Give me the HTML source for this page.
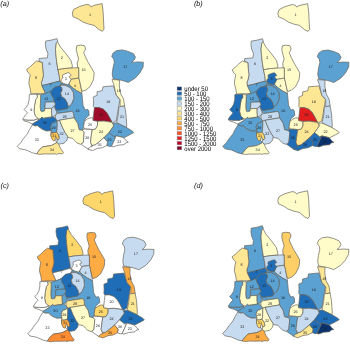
<!DOCTYPE html>
<html><head><meta charset="utf-8"><title>maps</title>
<style>html,body{margin:0;padding:0;background:#fff;}svg{display:block}text{font-family:"Liberation Sans",sans-serif;text-rendering:geometricPrecision}</style></head><body>
<svg width="350" height="344" viewBox="0 0 350 344">
<rect width="350" height="344" fill="#fff"/>
<g transform="translate(0,0)" stroke="#63615a" stroke-width="0.68" stroke-linejoin="round">
<polygon points="23.0,119.6 28.1,120.1 33.9,120.1 38.0,118.7 38.8,120.2 34.8,122.6 32.4,124.0 28.6,122.2 24.0,120.8" fill="#ffffff"/>
<polygon points="72.3,13.1 73.7,9.4 79.5,6.5 86.8,4.4 89.7,5.1 91.2,7.0 93.3,5.5 102.1,3.6 103.1,11.6 104.0,29.1 102.5,31.3 99.2,29.8 94.1,25.4 88.3,24.0 82.4,21.8 78.1,18.9 73.0,16.7" fill="#fde694"/>
<polygon points="45.7,41.0 51.8,40.0 56.9,38.6 57.8,41.2 56.3,43.1 55.5,48.9 55.9,54.7 56.7,62.0 58.0,70.0 59.4,76.5 59.8,81.0 49.9,83.7 41.9,85.6 41.3,82.7 42.6,79.0 43.4,74.7 42.7,68.9 42.3,62.6 39.0,61.4 39.1,58.5 47.4,57.8 47.9,53.3 46.0,48.9 45.4,44.5" fill="#c6dbef"/>
<polygon points="36.8,60.9 42.3,62.6 42.7,68.9 43.4,74.7 42.6,79.0 41.3,82.7 41.9,85.6 44.0,90.0 45.5,93.3 41.2,93.6 35.3,93.6 31.0,94.0 30.3,89.2 28.8,83.4 29.5,78.3 30.3,74.7 28.0,72.5 26.6,69.6 29.5,67.4 33.2,63.8" fill="#fde694"/>
<polygon points="57.4,41.6 60.5,47.1 66.0,53.8 70.8,60.2 72.4,65.8 72.0,68.0 64.9,68.5 58.0,69.6 58.0,70.0 56.7,62.0 55.9,54.7 55.5,48.9 56.3,43.1" fill="#fffcc9"/>
<polygon points="58.0,69.6 64.9,68.5 72.0,68.0 78.8,67.6 78.9,78.0 71.1,79.3 69.1,83.4 61.8,83.6 59.8,81.0 59.4,76.5" fill="#fde694"/>
<polygon points="71.1,79.3 78.9,78.0 79.9,82.0 81.3,89.0 81.9,93.6 76.6,90.7 72.6,87.8 69.1,84.9 69.1,83.4" fill="#fde694"/>
<polygon points="76.7,45.8 80.3,45.1 84.3,45.6 85.4,47.8 85.2,50.0 83.7,52.6 85.5,57.0 88.1,62.3 90.5,66.2 94.2,72.7 93.7,78.5 92.9,80.8 90.0,86.6 85.9,90.1 82.4,91.3 81.3,89.0 79.9,82.0 78.9,78.0 78.8,67.6 77.7,67.6 77.2,63.3 78.6,58.9 77.4,54.5 76.3,50.2" fill="#fffcc9"/>
<polygon points="41.9,85.6 49.9,83.7 59.6,81.0 61.5,83.6 60.0,86.0 54.7,87.2 50.4,91.5 45.5,93.5 44.0,90.0" fill="#5ba1d2"/>
<polygon points="61.5,83.6 63.5,83.5 67.7,84.7 69.1,83.6 69.1,84.9 72.6,87.8 76.6,90.7 81.9,93.6 82.4,98.3 83.0,105.2 85.3,109.9 87.7,109.3 88.8,111.0 89.2,115.3 85.6,118.3 84.4,121.3 83.6,126.5 82.5,130.3 79.1,129.8 77.6,123.3 74.0,117.8 73.5,113.5 72.3,111.3 58.3,113.4 56.6,111.7 55.4,109.4 58.1,110.2 64.7,109.1 67.4,108.5 68.4,106.8 71.5,104.1 73.8,98.3 73.3,92.4 70.3,87.8 65.1,85.3 61.5,85.2 60.0,86.0" fill="#5ba1d2"/>
<polygon points="50.4,91.5 54.7,87.2 60.0,86.0 61.6,87.2 62.2,90.1 60.7,93.0 61.7,96.5 65.1,98.8 67.4,102.9 68.4,106.8 67.4,108.5 64.7,109.1 58.1,110.2 55.4,109.4 54.3,106.3 55.4,104.0 54.0,101.6 53.3,98.3 51.2,94.8" fill="#1f6db6"/>
<polygon points="60.0,86.0 61.5,85.2 65.1,85.3 70.3,87.8 73.3,92.4 73.8,98.3 71.5,104.1 68.4,106.8 67.4,102.9 65.1,98.8 61.7,96.5 60.7,93.0 62.2,90.1 61.6,87.2" fill="#c6dbef"/>
<polygon points="40.7,94.7 45.5,93.5 50.4,91.5 51.2,94.8 53.3,98.3 54.0,101.8 45.3,102.2 44.8,109.0 44.4,111.0 41.6,111.7 40.7,111.0 40.2,106.8 40.5,101.0" fill="#5ba1d2"/>
<polygon points="45.3,102.2 54.0,101.8 55.4,104.0 54.3,106.3 51.6,108.4 44.9,108.5" fill="#c6dbef"/>
<polygon points="36.9,94.4 40.7,94.7 40.5,101.0 40.2,106.8 40.7,111.0 41.6,111.7 44.4,111.0 44.9,108.5 51.6,108.4 51.6,112.7 52.0,116.9 46.3,117.6 43.3,118.2 42.0,117.1 40.3,118.8 38.0,118.7 35.1,115.8 34.0,111.2 34.6,105.3 35.7,99.5 37.3,97.2" fill="#fffcc9"/>
<polygon points="51.6,108.4 54.3,106.3 55.4,109.4 56.6,111.7 56.6,113.9 55.4,115.5 52.0,116.9 51.6,112.7" fill="#c6dbef"/>
<polygon points="29.3,94.4 36.9,94.2 37.3,97.2 35.7,99.5 34.6,105.3 34.0,111.2 35.1,115.8 38.0,118.7 33.9,120.1 28.1,120.1 23.0,119.6 22.9,118.7 25.2,115.4 27.5,112.9 24.1,109.4 26.3,107.1 28.1,104.2 29.2,99.5" fill="#ffffff"/>
<polygon points="32.4,124.0 34.8,122.6 38.8,120.2 40.3,118.8 42.0,117.1 43.3,118.4 46.3,118.0 49.6,117.5 52.0,116.9 53.1,116.9 55.5,118.3 57.2,120.8 54.2,122.6 52.3,123.0 50.6,126.6 51.3,130.7 46.3,131.0 42.6,129.5 40.0,127.8 37.7,125.7 35.3,126.0 32.4,124.9" fill="#1f6db6"/>
<polygon points="52.3,123.0 54.2,122.6 57.2,120.8 57.3,123.8 57.0,130.4 56.6,132.0 54.0,132.7 51.0,132.9 51.3,130.7 50.6,126.6" fill="#5ba1d2"/>
<polygon points="32.4,124.9 35.3,126.0 37.7,125.7 40.0,127.8 42.6,129.5 46.3,131.0 51.3,130.7 51.0,133.0 51.0,136.1 53.5,139.0 57.0,142.4 55.7,143.3 51.3,145.5 42.5,146.9 39.6,149.8 36.6,153.8 32.4,152.8 25.9,149.9 19.4,148.7 17.2,146.3 20.8,142.6 23.7,138.3 27.4,133.9 29.5,129.5" fill="#ffffff"/>
<polygon points="42.5,146.9 51.3,145.5 55.7,143.3 57.0,142.4 58.6,144.0 60.3,148.0 61.8,150.2 63.6,152.5 62.6,153.8 58.6,153.6 56.5,154.3 55.0,153.8 50.6,154.0 44.1,153.9 40.0,154.4 36.6,153.8 39.6,149.8" fill="#fde694"/>
<polygon points="51.0,132.9 54.0,132.7 56.6,132.0 58.7,134.9 59.4,138.5 58.2,139.8 56.9,139.2 56.6,137.4 55.3,137.6 55.2,140.2 53.6,140.8 52.0,139.4 51.0,136.1" fill="#fdc653"/>
<polygon points="57.2,120.8 59.6,120.3 62.4,127.1 65.3,132.9 67.7,136.4 67.1,139.9 64.2,143.2 60.1,144.0 58.6,144.0 57.0,142.4 56.9,139.2 58.2,139.8 59.4,138.5 58.7,134.9 56.6,132.0 57.0,130.4 57.3,123.8" fill="#c6dbef"/>
<polygon points="55.4,115.5 56.6,113.9 58.3,113.4 72.3,111.3 73.5,113.5 74.0,117.8 59.5,120.2 57.2,120.8 55.5,118.3" fill="#c6dbef"/>
<polygon points="59.5,120.2 74.0,117.8 77.6,123.3 79.1,129.8 82.5,130.3 84.2,132.0 83.4,142.2 80.5,144.3 76.9,142.9 74.7,140.7 72.5,138.2 67.7,137.4 67.7,136.4 65.3,132.9 62.4,127.1 59.6,120.3" fill="#fffcc9"/>
<polygon points="84.2,132.0 82.5,130.3 84.0,128.9 89.2,129.2 92.3,129.7 91.4,134.8 90.5,142.2 92.2,146.5 88.6,149.3 84.2,146.5 81.3,144.3 83.4,142.2" fill="#ffffff"/>
<polygon points="84.4,121.3 87.3,119.0 90.2,117.8 93.1,117.8 93.3,120.4 97.5,121.2 97.4,125.9 95.4,129.2 92.3,129.5 89.2,129.0 84.0,128.7 83.6,126.5" fill="#ffffff"/>
<polygon points="93.3,96.9 97.1,95.3 97.1,91.8 102.3,90.6 103.0,86.8 113.3,85.8 114.8,90.2 116.3,95.3 119.9,99.6 118.7,106.9 117.7,112.7 116.3,120.7 112.6,122.9 111.9,122.2 109.7,117.8 106.8,112.7 103.2,109.1 98.8,107.6 94.4,107.6 93.3,106.4 93.5,101.8" fill="#c6dbef"/>
<polygon points="94.4,107.6 98.8,107.6 103.2,109.1 106.8,112.7 109.7,117.8 111.9,122.2 103.9,121.0 98.1,121.2 93.0,120.4 93.7,113.4" fill="#a00a2a"/>
<polygon points="112.0,79.5 119.5,80.0 119.3,86.0 120.6,93.8 123.5,98.9 124.6,106.0 120.1,106.5 120.2,99.6 116.5,95.3 115.3,91.6 114.2,85.8" fill="#fffcc9"/>
<polygon points="120.1,106.5 124.6,106.0 125.9,113.2 126.7,123.9 126.6,127.6 125.3,127.0 120.3,124.6 116.6,122.4 118.1,115.3 118.8,107.0" fill="#c6dbef"/>
<polygon points="111.7,56.6 113.1,53.1 116.6,50.6 122.4,49.9 128.3,51.4 133.5,53.7 135.5,57.2 134.1,60.1 131.5,62.4 137.6,61.9 143.4,62.2 143.1,67.1 139.9,72.9 135.2,78.1 128.3,82.4 122.4,80.5 116.6,79.3 113.1,78.7 112.2,74.1 112.9,68.3 114.3,62.4 113.7,59.0" fill="#5ba1d2"/>
<polygon points="98.1,121.3 103.9,121.1 111.9,122.3 113.8,125.9 109.0,132.6 103.9,137.8 98.8,142.1 95.2,145.0 92.0,145.5 90.5,142.2 91.4,134.8 92.3,129.7 95.4,129.2 97.4,125.9 97.6,122.3" fill="#fffcc9"/>
<polygon points="113.2,123.2 116.2,122.9 120.3,124.6 125.3,127.0 129.9,129.5 132.5,131.2 133.7,132.6 130.1,134.6 124.2,137.6 116.3,135.8 114.1,136.8 109.0,132.6 113.8,125.9" fill="#5ba1d2"/>
<polygon points="103.9,137.8 109.0,132.6 114.1,136.8 116.3,135.8 115.5,137.5 113.8,141.5 111.5,146.3 109.7,146.5 106.8,145.5 107.5,141.9" fill="#5ba1d2"/>
<polygon points="116.3,135.8 122.5,137.4 124.2,138.2 126.5,141.0 128.3,142.2 125.4,143.0 124.2,144.6 118.0,145.2 113.4,146.8 111.5,146.3 113.8,141.5 115.5,137.5" fill="#ffffff"/>
<polygon points="95.2,145.0 98.8,142.1 103.9,137.8 107.5,141.9 106.8,145.5 102.4,147.7 97.4,148.4 92.3,150.6 87.9,149.2 90.1,146.8 92.2,146.5 92.0,145.5" fill="#ffffff"/>
<polygon points="62.8,74.7 67.0,73.0 69.1,72.7 70.5,74.4 71.2,75.4 69.2,76.5 69.5,77.5 71.2,79.3 69.1,83.5 67.7,84.7 63.5,83.5 61.0,81.7 61.4,79.6 62.8,77.9 62.4,75.8" fill="#ffffff"/>
</g>
<g transform="translate(0,0)" font-size="3.7" fill="#1c1e22" text-anchor="middle">
<text x="90.1" y="16.2">1</text><text x="61.7" y="59.2">2</text><text x="49.6" y="65.1">6</text><text x="36.1" y="78.5">8</text><text x="31.3" y="111.3">9</text><text x="46.3" y="100.4">12</text><text x="58.6" y="100.1">13</text><text x="66.9" y="95.0">14</text><text x="65.9" y="79.7">3</text><text x="74.9" y="87.0">4</text><text x="50.9" y="86.2">7</text><text x="83.5" y="71.1">15</text><text x="77.6" y="111.8">16</text><text x="125.3" y="67.7">17</text><text x="118.8" y="92.4">18</text><text x="108.3" y="103.4">19</text><text x="101.0" y="115.8">20</text><text x="122.1" y="118.0">21</text><text x="119.9" y="133.1">22</text><text x="119.2" y="142.8">23</text><text x="101.0" y="133.1">24</text><text x="90.1" y="125.8">25</text><text x="109.4" y="140.6">36</text><text x="99.5" y="146.4">35</text><text x="72.5" y="132.2">27</text><text x="64.5" y="117.6">28</text><text x="87.3" y="139.4">26</text><text x="53.6" y="128.5">29</text><text x="44.8" y="124.4">30</text><text x="54.4" y="137.2">31</text><text x="61.6" y="135.1">32</text><text x="36.8" y="141.3">33</text><text x="52.1" y="150.5">34</text>
</g>
<g transform="translate(205.55,0.1)" stroke="#63615a" stroke-width="0.68" stroke-linejoin="round">
<polygon points="23.0,119.6 28.1,120.1 33.9,120.1 38.0,118.7 38.8,120.2 34.8,122.6 32.4,124.0 28.6,122.2 24.0,120.8" fill="#ffffff"/>
<polygon points="72.3,13.1 73.7,9.4 79.5,6.5 86.8,4.4 89.7,5.1 91.2,7.0 93.3,5.5 102.1,3.6 103.1,11.6 104.0,29.1 102.5,31.3 99.2,29.8 94.1,25.4 88.3,24.0 82.4,21.8 78.1,18.9 73.0,16.7" fill="#fffcc9"/>
<polygon points="45.7,41.0 51.8,40.0 56.9,38.6 57.8,41.2 56.3,43.1 55.5,48.9 55.9,54.7 56.7,62.0 58.0,70.0 59.4,76.5 59.8,81.0 49.9,83.7 41.9,85.6 41.3,82.7 42.6,79.0 43.4,74.7 42.7,68.9 42.3,62.6 39.0,61.4 39.1,58.5 47.4,57.8 47.9,53.3 46.0,48.9 45.4,44.5" fill="#c6dbef"/>
<polygon points="36.8,60.9 42.3,62.6 42.7,68.9 43.4,74.7 42.6,79.0 41.3,82.7 41.9,85.6 44.0,90.0 45.5,93.3 41.2,93.6 35.3,93.6 31.0,94.0 30.3,89.2 28.8,83.4 29.5,78.3 30.3,74.7 28.0,72.5 26.6,69.6 29.5,67.4 33.2,63.8" fill="#fffcc9"/>
<polygon points="57.4,41.6 60.5,47.1 66.0,53.8 70.8,60.2 72.4,65.8 72.0,68.0 64.9,68.5 58.0,69.6 58.0,70.0 56.7,62.0 55.9,54.7 55.5,48.9 56.3,43.1" fill="#fffcc9"/>
<polygon points="58.0,69.6 64.9,68.5 72.0,68.0 78.8,67.6 78.9,78.0 71.1,79.3 69.1,83.4 61.8,83.6 59.8,81.0 59.4,76.5" fill="#fffcc9"/>
<polygon points="71.1,79.3 78.9,78.0 79.9,82.0 81.3,89.0 81.9,93.6 76.6,90.7 72.6,87.8 69.1,84.9 69.1,83.4" fill="#fffcc9"/>
<polygon points="76.7,45.8 80.3,45.1 84.3,45.6 85.4,47.8 85.2,50.0 83.7,52.6 85.5,57.0 88.1,62.3 90.5,66.2 94.2,72.7 93.7,78.5 92.9,80.8 90.0,86.6 85.9,90.1 82.4,91.3 81.3,89.0 79.9,82.0 78.9,78.0 78.8,67.6 77.7,67.6 77.2,63.3 78.6,58.9 77.4,54.5 76.3,50.2" fill="#fffcc9"/>
<polygon points="41.9,85.6 49.9,83.7 59.6,81.0 61.5,83.6 60.0,86.0 54.7,87.2 50.4,91.5 45.5,93.5 44.0,90.0" fill="#5ba1d2"/>
<polygon points="61.5,83.6 63.5,83.5 67.7,84.7 69.1,83.6 69.1,84.9 72.6,87.8 76.6,90.7 81.9,93.6 82.4,98.3 83.0,105.2 85.3,109.9 87.7,109.3 88.8,111.0 89.2,115.3 85.6,118.3 84.4,121.3 83.6,126.5 82.5,130.3 79.1,129.8 77.6,123.3 74.0,117.8 73.5,113.5 72.3,111.3 58.3,113.4 56.6,111.7 55.4,109.4 58.1,110.2 64.7,109.1 67.4,108.5 68.4,106.8 71.5,104.1 73.8,98.3 73.3,92.4 70.3,87.8 65.1,85.3 61.5,85.2 60.0,86.0" fill="#5ba1d2"/>
<polygon points="50.4,91.5 54.7,87.2 60.0,86.0 61.6,87.2 62.2,90.1 60.7,93.0 61.7,96.5 65.1,98.8 67.4,102.9 68.4,106.8 67.4,108.5 64.7,109.1 58.1,110.2 55.4,109.4 54.3,106.3 55.4,104.0 54.0,101.6 53.3,98.3 51.2,94.8" fill="#1f6db6"/>
<polygon points="60.0,86.0 61.5,85.2 65.1,85.3 70.3,87.8 73.3,92.4 73.8,98.3 71.5,104.1 68.4,106.8 67.4,102.9 65.1,98.8 61.7,96.5 60.7,93.0 62.2,90.1 61.6,87.2" fill="#5ba1d2"/>
<polygon points="40.7,94.7 45.5,93.5 50.4,91.5 51.2,94.8 53.3,98.3 54.0,101.8 45.3,102.2 44.8,109.0 44.4,111.0 41.6,111.7 40.7,111.0 40.2,106.8 40.5,101.0" fill="#5ba1d2"/>
<polygon points="45.3,102.2 54.0,101.8 55.4,104.0 54.3,106.3 51.6,108.4 44.9,108.5" fill="#c6dbef"/>
<polygon points="36.9,94.4 40.7,94.7 40.5,101.0 40.2,106.8 40.7,111.0 41.6,111.7 44.4,111.0 44.9,108.5 51.6,108.4 51.6,112.7 52.0,116.9 46.3,117.6 43.3,118.2 42.0,117.1 40.3,118.8 38.0,118.7 35.1,115.8 34.0,111.2 34.6,105.3 35.7,99.5 37.3,97.2" fill="#fffcc9"/>
<polygon points="51.6,108.4 54.3,106.3 55.4,109.4 56.6,111.7 56.6,113.9 55.4,115.5 52.0,116.9 51.6,112.7" fill="#c6dbef"/>
<polygon points="29.3,94.4 36.9,94.2 37.3,97.2 35.7,99.5 34.6,105.3 34.0,111.2 35.1,115.8 38.0,118.7 33.9,120.1 28.1,120.1 23.0,119.6 22.9,118.7 25.2,115.4 27.5,112.9 24.1,109.4 26.3,107.1 28.1,104.2 29.2,99.5" fill="#1f6db6"/>
<polygon points="32.4,124.0 34.8,122.6 38.8,120.2 40.3,118.8 42.0,117.1 43.3,118.4 46.3,118.0 49.6,117.5 52.0,116.9 53.1,116.9 55.5,118.3 57.2,120.8 54.2,122.6 52.3,123.0 50.6,126.6 51.3,130.7 46.3,131.0 42.6,129.5 40.0,127.8 37.7,125.7 35.3,126.0 32.4,124.9" fill="#5ba1d2"/>
<polygon points="52.3,123.0 54.2,122.6 57.2,120.8 57.3,123.8 57.0,130.4 56.6,132.0 54.0,132.7 51.0,132.9 51.3,130.7 50.6,126.6" fill="#5ba1d2"/>
<polygon points="32.4,124.9 35.3,126.0 37.7,125.7 40.0,127.8 42.6,129.5 46.3,131.0 51.3,130.7 51.0,133.0 51.0,136.1 53.5,139.0 57.0,142.4 55.7,143.3 51.3,145.5 42.5,146.9 39.6,149.8 36.6,153.8 32.4,152.8 25.9,149.9 19.4,148.7 17.2,146.3 20.8,142.6 23.7,138.3 27.4,133.9 29.5,129.5" fill="#5ba1d2"/>
<polygon points="42.5,146.9 51.3,145.5 55.7,143.3 57.0,142.4 58.6,144.0 60.3,148.0 61.8,150.2 63.6,152.5 62.6,153.8 58.6,153.6 56.5,154.3 55.0,153.8 50.6,154.0 44.1,153.9 40.0,154.4 36.6,153.8 39.6,149.8" fill="#fffcc9"/>
<polygon points="51.0,132.9 54.0,132.7 56.6,132.0 58.7,134.9 59.4,138.5 58.2,139.8 56.9,139.2 56.6,137.4 55.3,137.6 55.2,140.2 53.6,140.8 52.0,139.4 51.0,136.1" fill="#fdd769"/>
<polygon points="57.2,120.8 59.6,120.3 62.4,127.1 65.3,132.9 67.7,136.4 67.1,139.9 64.2,143.2 60.1,144.0 58.6,144.0 57.0,142.4 56.9,139.2 58.2,139.8 59.4,138.5 58.7,134.9 56.6,132.0 57.0,130.4 57.3,123.8" fill="#c6dbef"/>
<polygon points="55.4,115.5 56.6,113.9 58.3,113.4 72.3,111.3 73.5,113.5 74.0,117.8 59.5,120.2 57.2,120.8 55.5,118.3" fill="#c6dbef"/>
<polygon points="59.5,120.2 74.0,117.8 77.6,123.3 79.1,129.8 82.5,130.3 84.2,132.0 83.4,142.2 80.5,144.3 76.9,142.9 74.7,140.7 72.5,138.2 67.7,137.4 67.7,136.4 65.3,132.9 62.4,127.1 59.6,120.3" fill="#c6dbef"/>
<polygon points="84.2,132.0 82.5,130.3 84.0,128.9 89.2,129.2 92.3,129.7 91.4,134.8 90.5,142.2 92.2,146.5 88.6,149.3 84.2,146.5 81.3,144.3 83.4,142.2" fill="#1f6db6"/>
<polygon points="84.4,121.3 87.3,119.0 90.2,117.8 93.1,117.8 93.3,120.4 97.5,121.2 97.4,125.9 95.4,129.2 92.3,129.5 89.2,129.0 84.0,128.7 83.6,126.5" fill="#fffcc9"/>
<polygon points="93.3,96.9 97.1,95.3 97.1,91.8 102.3,90.6 103.0,86.8 113.3,85.8 114.8,90.2 116.3,95.3 119.9,99.6 118.7,106.9 117.7,112.7 116.3,120.7 112.6,122.9 111.9,122.2 109.7,117.8 106.8,112.7 103.2,109.1 98.8,107.6 94.4,107.6 93.3,106.4 93.5,101.8" fill="#fde694"/>
<polygon points="94.4,107.6 98.8,107.6 103.2,109.1 106.8,112.7 109.7,117.8 111.9,122.2 103.9,121.0 98.1,121.2 93.0,120.4 93.7,113.4" fill="#e11e1e"/>
<polygon points="112.0,79.5 119.5,80.0 119.3,86.0 120.6,93.8 123.5,98.9 124.6,106.0 120.1,106.5 120.2,99.6 116.5,95.3 115.3,91.6 114.2,85.8" fill="#c6dbef"/>
<polygon points="120.1,106.5 124.6,106.0 125.9,113.2 126.7,123.9 126.6,127.6 125.3,127.0 120.3,124.6 116.6,122.4 118.1,115.3 118.8,107.0" fill="#c6dbef"/>
<polygon points="111.7,56.6 113.1,53.1 116.6,50.6 122.4,49.9 128.3,51.4 133.5,53.7 135.5,57.2 134.1,60.1 131.5,62.4 137.6,61.9 143.4,62.2 143.1,67.1 139.9,72.9 135.2,78.1 128.3,82.4 122.4,80.5 116.6,79.3 113.1,78.7 112.2,74.1 112.9,68.3 114.3,62.4 113.7,59.0" fill="#5ba1d2"/>
<polygon points="98.1,121.3 103.9,121.1 111.9,122.3 113.8,125.9 109.0,132.6 103.9,137.8 98.8,142.1 95.2,145.0 92.0,145.5 90.5,142.2 91.4,134.8 92.3,129.7 95.4,129.2 97.4,125.9 97.6,122.3" fill="#fde694"/>
<polygon points="113.2,123.2 116.2,122.9 120.3,124.6 125.3,127.0 129.9,129.5 132.5,131.2 133.7,132.6 130.1,134.6 124.2,137.6 116.3,135.8 114.1,136.8 109.0,132.6 113.8,125.9" fill="#fffcc9"/>
<polygon points="103.9,137.8 109.0,132.6 114.1,136.8 116.3,135.8 115.5,137.5 113.8,141.5 111.5,146.3 109.7,146.5 106.8,145.5 107.5,141.9" fill="#1f6db6"/>
<polygon points="116.3,135.8 122.5,137.4 124.2,138.2 126.5,141.0 128.3,142.2 125.4,143.0 124.2,144.6 118.0,145.2 113.4,146.8 111.5,146.3 113.8,141.5 115.5,137.5" fill="#0a326e"/>
<polygon points="95.2,145.0 98.8,142.1 103.9,137.8 107.5,141.9 106.8,145.5 102.4,147.7 97.4,148.4 92.3,150.6 87.9,149.2 90.1,146.8 92.2,146.5 92.0,145.5" fill="#1f6db6"/>
<polygon points="62.8,74.7 67.0,73.0 69.1,72.7 70.5,74.4 71.2,75.4 69.2,76.5 69.5,77.5 71.2,79.3 69.1,83.5 67.7,84.7 63.5,83.5 61.0,81.7 61.4,79.6 62.8,77.9 62.4,75.8" fill="#1f6db6"/>
</g>
<g transform="translate(205.55,0.1)" font-size="3.7" fill="#1c1e22" text-anchor="middle">
<text x="90.1" y="16.2">1</text><text x="61.7" y="59.2">2</text><text x="49.6" y="65.1">6</text><text x="36.1" y="78.5">8</text><text x="31.3" y="111.3">9</text><text x="46.3" y="100.4">12</text><text x="58.6" y="100.1">13</text><text x="66.9" y="95.0">14</text><text x="65.9" y="79.7">3</text><text x="74.9" y="87.0">4</text><text x="50.9" y="86.2">7</text><text x="83.5" y="71.1">15</text><text x="77.6" y="111.8">16</text><text x="125.3" y="67.7">17</text><text x="118.8" y="92.4">18</text><text x="108.3" y="103.4">19</text><text x="101.0" y="115.8">20</text><text x="122.1" y="118.0">21</text><text x="119.9" y="133.1">22</text><text x="119.2" y="142.8">23</text><text x="101.0" y="133.1">24</text><text x="90.1" y="125.8">25</text><text x="109.4" y="140.6">36</text><text x="99.5" y="146.4">35</text><text x="72.5" y="132.2">27</text><text x="64.5" y="117.6">28</text><text x="87.3" y="139.4">26</text><text x="53.6" y="128.5">29</text><text x="44.8" y="124.4">30</text><text x="54.4" y="137.2">31</text><text x="61.6" y="135.1">32</text><text x="36.8" y="141.3">33</text><text x="52.1" y="150.5">34</text>
</g>
<g transform="translate(10.6,187.3)" stroke="#63615a" stroke-width="0.68" stroke-linejoin="round">
<polygon points="23.0,119.6 28.1,120.1 33.9,120.1 38.0,118.7 38.8,120.2 34.8,122.6 32.4,124.0 28.6,122.2 24.0,120.8" fill="#ffffff"/>
<polygon points="72.3,13.1 73.7,9.4 79.5,6.5 86.8,4.4 89.7,5.1 91.2,7.0 93.3,5.5 102.1,3.6 103.1,11.6 104.0,29.1 102.5,31.3 99.2,29.8 94.1,25.4 88.3,24.0 82.4,21.8 78.1,18.9 73.0,16.7" fill="#fdd769"/>
<polygon points="45.7,41.0 51.8,40.0 56.9,38.6 57.8,41.2 56.3,43.1 55.5,48.9 55.9,54.7 56.7,62.0 58.0,70.0 59.4,76.5 59.8,81.0 49.9,83.7 41.9,85.6 41.3,82.7 42.6,79.0 43.4,74.7 42.7,68.9 42.3,62.6 39.0,61.4 39.1,58.5 47.4,57.8 47.9,53.3 46.0,48.9 45.4,44.5" fill="#1f6db6"/>
<polygon points="36.8,60.9 42.3,62.6 42.7,68.9 43.4,74.7 42.6,79.0 41.3,82.7 41.9,85.6 44.0,90.0 45.5,93.3 41.2,93.6 35.3,93.6 31.0,94.0 30.3,89.2 28.8,83.4 29.5,78.3 30.3,74.7 28.0,72.5 26.6,69.6 29.5,67.4 33.2,63.8" fill="#fdab43"/>
<polygon points="57.4,41.6 60.5,47.1 66.0,53.8 70.8,60.2 72.4,65.8 72.0,68.0 64.9,68.5 58.0,69.6 58.0,70.0 56.7,62.0 55.9,54.7 55.5,48.9 56.3,43.1" fill="#fdd769"/>
<polygon points="58.0,69.6 64.9,68.5 72.0,68.0 78.8,67.6 78.9,78.0 71.1,79.3 69.1,83.4 61.8,83.6 59.8,81.0 59.4,76.5" fill="#c6dbef"/>
<polygon points="71.1,79.3 78.9,78.0 79.9,82.0 81.3,89.0 81.9,93.6 76.6,90.7 72.6,87.8 69.1,84.9 69.1,83.4" fill="#c6dbef"/>
<polygon points="76.7,45.8 80.3,45.1 84.3,45.6 85.4,47.8 85.2,50.0 83.7,52.6 85.5,57.0 88.1,62.3 90.5,66.2 94.2,72.7 93.7,78.5 92.9,80.8 90.0,86.6 85.9,90.1 82.4,91.3 81.3,89.0 79.9,82.0 78.9,78.0 78.8,67.6 77.7,67.6 77.2,63.3 78.6,58.9 77.4,54.5 76.3,50.2" fill="#fdab43"/>
<polygon points="41.9,85.6 49.9,83.7 59.6,81.0 61.5,83.6 60.0,86.0 54.7,87.2 50.4,91.5 45.5,93.5 44.0,90.0" fill="#ffffff"/>
<polygon points="61.5,83.6 63.5,83.5 67.7,84.7 69.1,83.6 69.1,84.9 72.6,87.8 76.6,90.7 81.9,93.6 82.4,98.3 83.0,105.2 85.3,109.9 87.7,109.3 88.8,111.0 89.2,115.3 85.6,118.3 84.4,121.3 83.6,126.5 82.5,130.3 79.1,129.8 77.6,123.3 74.0,117.8 73.5,113.5 72.3,111.3 58.3,113.4 56.6,111.7 55.4,109.4 58.1,110.2 64.7,109.1 67.4,108.5 68.4,106.8 71.5,104.1 73.8,98.3 73.3,92.4 70.3,87.8 65.1,85.3 61.5,85.2 60.0,86.0" fill="#5ba1d2"/>
<polygon points="50.4,91.5 54.7,87.2 60.0,86.0 61.6,87.2 62.2,90.1 60.7,93.0 61.7,96.5 65.1,98.8 67.4,102.9 68.4,106.8 67.4,108.5 64.7,109.1 58.1,110.2 55.4,109.4 54.3,106.3 55.4,104.0 54.0,101.6 53.3,98.3 51.2,94.8" fill="#1f6db6"/>
<polygon points="60.0,86.0 61.5,85.2 65.1,85.3 70.3,87.8 73.3,92.4 73.8,98.3 71.5,104.1 68.4,106.8 67.4,102.9 65.1,98.8 61.7,96.5 60.7,93.0 62.2,90.1 61.6,87.2" fill="#c6dbef"/>
<polygon points="40.7,94.7 45.5,93.5 50.4,91.5 51.2,94.8 53.3,98.3 54.0,101.8 45.3,102.2 44.8,109.0 44.4,111.0 41.6,111.7 40.7,111.0 40.2,106.8 40.5,101.0" fill="#5ba1d2"/>
<polygon points="45.3,102.2 54.0,101.8 55.4,104.0 54.3,106.3 51.6,108.4 44.9,108.5" fill="#5ba1d2"/>
<polygon points="36.9,94.4 40.7,94.7 40.5,101.0 40.2,106.8 40.7,111.0 41.6,111.7 44.4,111.0 44.9,108.5 51.6,108.4 51.6,112.7 52.0,116.9 46.3,117.6 43.3,118.2 42.0,117.1 40.3,118.8 38.0,118.7 35.1,115.8 34.0,111.2 34.6,105.3 35.7,99.5 37.3,97.2" fill="#fde694"/>
<polygon points="51.6,108.4 54.3,106.3 55.4,109.4 56.6,111.7 56.6,113.9 55.4,115.5 52.0,116.9 51.6,112.7" fill="#5ba1d2"/>
<polygon points="29.3,94.4 36.9,94.2 37.3,97.2 35.7,99.5 34.6,105.3 34.0,111.2 35.1,115.8 38.0,118.7 33.9,120.1 28.1,120.1 23.0,119.6 22.9,118.7 25.2,115.4 27.5,112.9 24.1,109.4 26.3,107.1 28.1,104.2 29.2,99.5" fill="#ffffff"/>
<polygon points="32.4,124.0 34.8,122.6 38.8,120.2 40.3,118.8 42.0,117.1 43.3,118.4 46.3,118.0 49.6,117.5 52.0,116.9 53.1,116.9 55.5,118.3 57.2,120.8 54.2,122.6 52.3,123.0 50.6,126.6 51.3,130.7 46.3,131.0 42.6,129.5 40.0,127.8 37.7,125.7 35.3,126.0 32.4,124.9" fill="#5ba1d2"/>
<polygon points="52.3,123.0 54.2,122.6 57.2,120.8 57.3,123.8 57.0,130.4 56.6,132.0 54.0,132.7 51.0,132.9 51.3,130.7 50.6,126.6" fill="#fffcc9"/>
<polygon points="32.4,124.9 35.3,126.0 37.7,125.7 40.0,127.8 42.6,129.5 46.3,131.0 51.3,130.7 51.0,133.0 51.0,136.1 53.5,139.0 57.0,142.4 55.7,143.3 51.3,145.5 42.5,146.9 39.6,149.8 36.6,153.8 32.4,152.8 25.9,149.9 19.4,148.7 17.2,146.3 20.8,142.6 23.7,138.3 27.4,133.9 29.5,129.5" fill="#ffffff"/>
<polygon points="42.5,146.9 51.3,145.5 55.7,143.3 57.0,142.4 58.6,144.0 60.3,148.0 61.8,150.2 63.6,152.5 62.6,153.8 58.6,153.6 56.5,154.3 55.0,153.8 50.6,154.0 44.1,153.9 40.0,154.4 36.6,153.8 39.6,149.8" fill="#fd8c32"/>
<polygon points="51.0,132.9 54.0,132.7 56.6,132.0 58.7,134.9 59.4,138.5 58.2,139.8 56.9,139.2 56.6,137.4 55.3,137.6 55.2,140.2 53.6,140.8 52.0,139.4 51.0,136.1" fill="#fdab43"/>
<polygon points="57.2,120.8 59.6,120.3 62.4,127.1 65.3,132.9 67.7,136.4 67.1,139.9 64.2,143.2 60.1,144.0 58.6,144.0 57.0,142.4 56.9,139.2 58.2,139.8 59.4,138.5 58.7,134.9 56.6,132.0 57.0,130.4 57.3,123.8" fill="#1f6db6"/>
<polygon points="55.4,115.5 56.6,113.9 58.3,113.4 72.3,111.3 73.5,113.5 74.0,117.8 59.5,120.2 57.2,120.8 55.5,118.3" fill="#fde694"/>
<polygon points="59.5,120.2 74.0,117.8 77.6,123.3 79.1,129.8 82.5,130.3 84.2,132.0 83.4,142.2 80.5,144.3 76.9,142.9 74.7,140.7 72.5,138.2 67.7,137.4 67.7,136.4 65.3,132.9 62.4,127.1 59.6,120.3" fill="#fffcc9"/>
<polygon points="84.2,132.0 82.5,130.3 84.0,128.9 89.2,129.2 92.3,129.7 91.4,134.8 90.5,142.2 92.2,146.5 88.6,149.3 84.2,146.5 81.3,144.3 83.4,142.2" fill="#ffffff"/>
<polygon points="84.4,121.3 87.3,119.0 90.2,117.8 93.1,117.8 93.3,120.4 97.5,121.2 97.4,125.9 95.4,129.2 92.3,129.5 89.2,129.0 84.0,128.7 83.6,126.5" fill="#fdd769"/>
<polygon points="93.3,96.9 97.1,95.3 97.1,91.8 102.3,90.6 103.0,86.8 113.3,85.8 114.8,90.2 116.3,95.3 119.9,99.6 118.7,106.9 117.7,112.7 116.3,120.7 112.6,122.9 111.9,122.2 109.7,117.8 106.8,112.7 103.2,109.1 98.8,107.6 94.4,107.6 93.3,106.4 93.5,101.8" fill="#1f6db6"/>
<polygon points="94.4,107.6 98.8,107.6 103.2,109.1 106.8,112.7 109.7,117.8 111.9,122.2 103.9,121.0 98.1,121.2 93.0,120.4 93.7,113.4" fill="#ffffff"/>
<polygon points="112.0,79.5 119.5,80.0 119.3,86.0 120.6,93.8 123.5,98.9 124.6,106.0 120.1,106.5 120.2,99.6 116.5,95.3 115.3,91.6 114.2,85.8" fill="#fdab43"/>
<polygon points="120.1,106.5 124.6,106.0 125.9,113.2 126.7,123.9 126.6,127.6 125.3,127.0 120.3,124.6 116.6,122.4 118.1,115.3 118.8,107.0" fill="#fde694"/>
<polygon points="111.7,56.6 113.1,53.1 116.6,50.6 122.4,49.9 128.3,51.4 133.5,53.7 135.5,57.2 134.1,60.1 131.5,62.4 137.6,61.9 143.4,62.2 143.1,67.1 139.9,72.9 135.2,78.1 128.3,82.4 122.4,80.5 116.6,79.3 113.1,78.7 112.2,74.1 112.9,68.3 114.3,62.4 113.7,59.0" fill="#c6dbef"/>
<polygon points="98.1,121.3 103.9,121.1 111.9,122.3 113.8,125.9 109.0,132.6 103.9,137.8 98.8,142.1 95.2,145.0 92.0,145.5 90.5,142.2 91.4,134.8 92.3,129.7 95.4,129.2 97.4,125.9 97.6,122.3" fill="#c6dbef"/>
<polygon points="113.2,123.2 116.2,122.9 120.3,124.6 125.3,127.0 129.9,129.5 132.5,131.2 133.7,132.6 130.1,134.6 124.2,137.6 116.3,135.8 114.1,136.8 109.0,132.6 113.8,125.9" fill="#1f6db6"/>
<polygon points="103.9,137.8 109.0,132.6 114.1,136.8 116.3,135.8 115.5,137.5 113.8,141.5 111.5,146.3 109.7,146.5 106.8,145.5 107.5,141.9" fill="#ffffff"/>
<polygon points="116.3,135.8 122.5,137.4 124.2,138.2 126.5,141.0 128.3,142.2 125.4,143.0 124.2,144.6 118.0,145.2 113.4,146.8 111.5,146.3 113.8,141.5 115.5,137.5" fill="#ffffff"/>
<polygon points="95.2,145.0 98.8,142.1 103.9,137.8 107.5,141.9 106.8,145.5 102.4,147.7 97.4,148.4 92.3,150.6 87.9,149.2 90.1,146.8 92.2,146.5 92.0,145.5" fill="#fdab43"/>
<polygon points="62.8,74.7 67.0,73.0 69.1,72.7 70.5,74.4 71.2,75.4 69.2,76.5 69.5,77.5 71.2,79.3 69.1,83.5 67.7,84.7 63.5,83.5 61.0,81.7 61.4,79.6 62.8,77.9 62.4,75.8" fill="#ffffff"/>
</g>
<g transform="translate(10.6,187.3)" font-size="3.7" fill="#1c1e22" text-anchor="middle">
<text x="90.1" y="16.2">1</text><text x="61.7" y="59.2">2</text><text x="49.6" y="65.1">6</text><text x="36.1" y="78.5">8</text><text x="31.3" y="111.3">9</text><text x="46.3" y="100.4">12</text><text x="58.6" y="100.1">13</text><text x="66.9" y="95.0">14</text><text x="65.9" y="79.7">3</text><text x="74.9" y="87.0">4</text><text x="50.9" y="86.2">7</text><text x="83.5" y="71.1">15</text><text x="77.6" y="111.8">16</text><text x="125.3" y="67.7">17</text><text x="118.8" y="92.4">18</text><text x="108.3" y="103.4">19</text><text x="101.0" y="115.8">20</text><text x="122.1" y="118.0">21</text><text x="119.9" y="133.1">22</text><text x="119.2" y="142.8">23</text><text x="101.0" y="133.1">24</text><text x="90.1" y="125.8">25</text><text x="109.4" y="140.6">36</text><text x="99.5" y="146.4">35</text><text x="72.5" y="132.2">27</text><text x="64.5" y="117.6">28</text><text x="87.3" y="139.4">26</text><text x="53.6" y="128.5">29</text><text x="44.8" y="124.4">30</text><text x="54.4" y="137.2">31</text><text x="61.6" y="135.1">32</text><text x="36.8" y="141.3">33</text><text x="52.1" y="150.5">34</text>
</g>
<g transform="translate(205.5,187.15)" stroke="#63615a" stroke-width="0.68" stroke-linejoin="round">
<polygon points="23.0,119.6 28.1,120.1 33.9,120.1 38.0,118.7 38.8,120.2 34.8,122.6 32.4,124.0 28.6,122.2 24.0,120.8" fill="#5ba1d2"/>
<polygon points="72.3,13.1 73.7,9.4 79.5,6.5 86.8,4.4 89.7,5.1 91.2,7.0 93.3,5.5 102.1,3.6 103.1,11.6 104.0,29.1 102.5,31.3 99.2,29.8 94.1,25.4 88.3,24.0 82.4,21.8 78.1,18.9 73.0,16.7" fill="#fffcc9"/>
<polygon points="45.7,41.0 51.8,40.0 56.9,38.6 57.8,41.2 56.3,43.1 55.5,48.9 55.9,54.7 56.7,62.0 58.0,70.0 59.4,76.5 59.8,81.0 49.9,83.7 41.9,85.6 41.3,82.7 42.6,79.0 43.4,74.7 42.7,68.9 42.3,62.6 39.0,61.4 39.1,58.5 47.4,57.8 47.9,53.3 46.0,48.9 45.4,44.5" fill="#5ba1d2"/>
<polygon points="36.8,60.9 42.3,62.6 42.7,68.9 43.4,74.7 42.6,79.0 41.3,82.7 41.9,85.6 44.0,90.0 45.5,93.3 41.2,93.6 35.3,93.6 31.0,94.0 30.3,89.2 28.8,83.4 29.5,78.3 30.3,74.7 28.0,72.5 26.6,69.6 29.5,67.4 33.2,63.8" fill="#fde694"/>
<polygon points="57.4,41.6 60.5,47.1 66.0,53.8 70.8,60.2 72.4,65.8 72.0,68.0 64.9,68.5 58.0,69.6 58.0,70.0 56.7,62.0 55.9,54.7 55.5,48.9 56.3,43.1" fill="#fffcc9"/>
<polygon points="58.0,69.6 64.9,68.5 72.0,68.0 78.8,67.6 78.9,78.0 71.1,79.3 69.1,83.4 61.8,83.6 59.8,81.0 59.4,76.5" fill="#c6dbef"/>
<polygon points="71.1,79.3 78.9,78.0 79.9,82.0 81.3,89.0 81.9,93.6 76.6,90.7 72.6,87.8 69.1,84.9 69.1,83.4" fill="#c6dbef"/>
<polygon points="76.7,45.8 80.3,45.1 84.3,45.6 85.4,47.8 85.2,50.0 83.7,52.6 85.5,57.0 88.1,62.3 90.5,66.2 94.2,72.7 93.7,78.5 92.9,80.8 90.0,86.6 85.9,90.1 82.4,91.3 81.3,89.0 79.9,82.0 78.9,78.0 78.8,67.6 77.7,67.6 77.2,63.3 78.6,58.9 77.4,54.5 76.3,50.2" fill="#fdcf66"/>
<polygon points="41.9,85.6 49.9,83.7 59.6,81.0 61.5,83.6 60.0,86.0 54.7,87.2 50.4,91.5 45.5,93.5 44.0,90.0" fill="#1f6db6"/>
<polygon points="61.5,83.6 63.5,83.5 67.7,84.7 69.1,83.6 69.1,84.9 72.6,87.8 76.6,90.7 81.9,93.6 82.4,98.3 83.0,105.2 85.3,109.9 87.7,109.3 88.8,111.0 89.2,115.3 85.6,118.3 84.4,121.3 83.6,126.5 82.5,130.3 79.1,129.8 77.6,123.3 74.0,117.8 73.5,113.5 72.3,111.3 58.3,113.4 56.6,111.7 55.4,109.4 58.1,110.2 64.7,109.1 67.4,108.5 68.4,106.8 71.5,104.1 73.8,98.3 73.3,92.4 70.3,87.8 65.1,85.3 61.5,85.2 60.0,86.0" fill="#5ba1d2"/>
<polygon points="50.4,91.5 54.7,87.2 60.0,86.0 61.6,87.2 62.2,90.1 60.7,93.0 61.7,96.5 65.1,98.8 67.4,102.9 68.4,106.8 67.4,108.5 64.7,109.1 58.1,110.2 55.4,109.4 54.3,106.3 55.4,104.0 54.0,101.6 53.3,98.3 51.2,94.8" fill="#1f6db6"/>
<polygon points="60.0,86.0 61.5,85.2 65.1,85.3 70.3,87.8 73.3,92.4 73.8,98.3 71.5,104.1 68.4,106.8 67.4,102.9 65.1,98.8 61.7,96.5 60.7,93.0 62.2,90.1 61.6,87.2" fill="#5ba1d2"/>
<polygon points="40.7,94.7 45.5,93.5 50.4,91.5 51.2,94.8 53.3,98.3 54.0,101.8 45.3,102.2 44.8,109.0 44.4,111.0 41.6,111.7 40.7,111.0 40.2,106.8 40.5,101.0" fill="#5ba1d2"/>
<polygon points="45.3,102.2 54.0,101.8 55.4,104.0 54.3,106.3 51.6,108.4 44.9,108.5" fill="#5ba1d2"/>
<polygon points="36.9,94.4 40.7,94.7 40.5,101.0 40.2,106.8 40.7,111.0 41.6,111.7 44.4,111.0 44.9,108.5 51.6,108.4 51.6,112.7 52.0,116.9 46.3,117.6 43.3,118.2 42.0,117.1 40.3,118.8 38.0,118.7 35.1,115.8 34.0,111.2 34.6,105.3 35.7,99.5 37.3,97.2" fill="#fffcc9"/>
<polygon points="51.6,108.4 54.3,106.3 55.4,109.4 56.6,111.7 56.6,113.9 55.4,115.5 52.0,116.9 51.6,112.7" fill="#5ba1d2"/>
<polygon points="29.3,94.4 36.9,94.2 37.3,97.2 35.7,99.5 34.6,105.3 34.0,111.2 35.1,115.8 38.0,118.7 33.9,120.1 28.1,120.1 23.0,119.6 22.9,118.7 25.2,115.4 27.5,112.9 24.1,109.4 26.3,107.1 28.1,104.2 29.2,99.5" fill="#5ba1d2"/>
<polygon points="32.4,124.0 34.8,122.6 38.8,120.2 40.3,118.8 42.0,117.1 43.3,118.4 46.3,118.0 49.6,117.5 52.0,116.9 53.1,116.9 55.5,118.3 57.2,120.8 54.2,122.6 52.3,123.0 50.6,126.6 51.3,130.7 46.3,131.0 42.6,129.5 40.0,127.8 37.7,125.7 35.3,126.0 32.4,124.9" fill="#5ba1d2"/>
<polygon points="52.3,123.0 54.2,122.6 57.2,120.8 57.3,123.8 57.0,130.4 56.6,132.0 54.0,132.7 51.0,132.9 51.3,130.7 50.6,126.6" fill="#fffcc9"/>
<polygon points="32.4,124.9 35.3,126.0 37.7,125.7 40.0,127.8 42.6,129.5 46.3,131.0 51.3,130.7 51.0,133.0 51.0,136.1 53.5,139.0 57.0,142.4 55.7,143.3 51.3,145.5 42.5,146.9 39.6,149.8 36.6,153.8 32.4,152.8 25.9,149.9 19.4,148.7 17.2,146.3 20.8,142.6 23.7,138.3 27.4,133.9 29.5,129.5" fill="#c6dbef"/>
<polygon points="42.5,146.9 51.3,145.5 55.7,143.3 57.0,142.4 58.6,144.0 60.3,148.0 61.8,150.2 63.6,152.5 62.6,153.8 58.6,153.6 56.5,154.3 55.0,153.8 50.6,154.0 44.1,153.9 40.0,154.4 36.6,153.8 39.6,149.8" fill="#fdab43"/>
<polygon points="51.0,132.9 54.0,132.7 56.6,132.0 58.7,134.9 59.4,138.5 58.2,139.8 56.9,139.2 56.6,137.4 55.3,137.6 55.2,140.2 53.6,140.8 52.0,139.4 51.0,136.1" fill="#fdd769"/>
<polygon points="57.2,120.8 59.6,120.3 62.4,127.1 65.3,132.9 67.7,136.4 67.1,139.9 64.2,143.2 60.1,144.0 58.6,144.0 57.0,142.4 56.9,139.2 58.2,139.8 59.4,138.5 58.7,134.9 56.6,132.0 57.0,130.4 57.3,123.8" fill="#fffcc9"/>
<polygon points="55.4,115.5 56.6,113.9 58.3,113.4 72.3,111.3 73.5,113.5 74.0,117.8 59.5,120.2 57.2,120.8 55.5,118.3" fill="#fffcc9"/>
<polygon points="59.5,120.2 74.0,117.8 77.6,123.3 79.1,129.8 82.5,130.3 84.2,132.0 83.4,142.2 80.5,144.3 76.9,142.9 74.7,140.7 72.5,138.2 67.7,137.4 67.7,136.4 65.3,132.9 62.4,127.1 59.6,120.3" fill="#c6dbef"/>
<polygon points="84.2,132.0 82.5,130.3 84.0,128.9 89.2,129.2 92.3,129.7 91.4,134.8 90.5,142.2 92.2,146.5 88.6,149.3 84.2,146.5 81.3,144.3 83.4,142.2" fill="#5ba1d2"/>
<polygon points="84.4,121.3 87.3,119.0 90.2,117.8 93.1,117.8 93.3,120.4 97.5,121.2 97.4,125.9 95.4,129.2 92.3,129.5 89.2,129.0 84.0,128.7 83.6,126.5" fill="#fffcc9"/>
<polygon points="93.3,96.9 97.1,95.3 97.1,91.8 102.3,90.6 103.0,86.8 113.3,85.8 114.8,90.2 116.3,95.3 119.9,99.6 118.7,106.9 117.7,112.7 116.3,120.7 112.6,122.9 111.9,122.2 109.7,117.8 106.8,112.7 103.2,109.1 98.8,107.6 94.4,107.6 93.3,106.4 93.5,101.8" fill="#5ba1d2"/>
<polygon points="94.4,107.6 98.8,107.6 103.2,109.1 106.8,112.7 109.7,117.8 111.9,122.2 103.9,121.0 98.1,121.2 93.0,120.4 93.7,113.4" fill="#1f6db6"/>
<polygon points="112.0,79.5 119.5,80.0 119.3,86.0 120.6,93.8 123.5,98.9 124.6,106.0 120.1,106.5 120.2,99.6 116.5,95.3 115.3,91.6 114.2,85.8" fill="#fde694"/>
<polygon points="120.1,106.5 124.6,106.0 125.9,113.2 126.7,123.9 126.6,127.6 125.3,127.0 120.3,124.6 116.6,122.4 118.1,115.3 118.8,107.0" fill="#fffcc9"/>
<polygon points="111.7,56.6 113.1,53.1 116.6,50.6 122.4,49.9 128.3,51.4 133.5,53.7 135.5,57.2 134.1,60.1 131.5,62.4 137.6,61.9 143.4,62.2 143.1,67.1 139.9,72.9 135.2,78.1 128.3,82.4 122.4,80.5 116.6,79.3 113.1,78.7 112.2,74.1 112.9,68.3 114.3,62.4 113.7,59.0" fill="#fffcc9"/>
<polygon points="98.1,121.3 103.9,121.1 111.9,122.3 113.8,125.9 109.0,132.6 103.9,137.8 98.8,142.1 95.2,145.0 92.0,145.5 90.5,142.2 91.4,134.8 92.3,129.7 95.4,129.2 97.4,125.9 97.6,122.3" fill="#c6dbef"/>
<polygon points="113.2,123.2 116.2,122.9 120.3,124.6 125.3,127.0 129.9,129.5 132.5,131.2 133.7,132.6 130.1,134.6 124.2,137.6 116.3,135.8 114.1,136.8 109.0,132.6 113.8,125.9" fill="#1f6db6"/>
<polygon points="103.9,137.8 109.0,132.6 114.1,136.8 116.3,135.8 115.5,137.5 113.8,141.5 111.5,146.3 109.7,146.5 106.8,145.5 107.5,141.9" fill="#1f6db6"/>
<polygon points="116.3,135.8 122.5,137.4 124.2,138.2 126.5,141.0 128.3,142.2 125.4,143.0 124.2,144.6 118.0,145.2 113.4,146.8 111.5,146.3 113.8,141.5 115.5,137.5" fill="#0a326e"/>
<polygon points="95.2,145.0 98.8,142.1 103.9,137.8 107.5,141.9 106.8,145.5 102.4,147.7 97.4,148.4 92.3,150.6 87.9,149.2 90.1,146.8 92.2,146.5 92.0,145.5" fill="#fde694"/>
<polygon points="62.8,74.7 67.0,73.0 69.1,72.7 70.5,74.4 71.2,75.4 69.2,76.5 69.5,77.5 71.2,79.3 69.1,83.5 67.7,84.7 63.5,83.5 61.0,81.7 61.4,79.6 62.8,77.9 62.4,75.8" fill="#1f6db6"/>
</g>
<g transform="translate(205.5,187.15)" font-size="3.7" fill="#1c1e22" text-anchor="middle">
<text x="90.1" y="16.2">1</text><text x="61.7" y="59.2">2</text><text x="49.6" y="65.1">6</text><text x="36.1" y="78.5">8</text><text x="31.3" y="111.3">9</text><text x="46.3" y="100.4">12</text><text x="58.6" y="100.1">13</text><text x="66.9" y="95.0">14</text><text x="65.9" y="79.7">3</text><text x="74.9" y="87.0">4</text><text x="50.9" y="86.2">7</text><text x="83.5" y="71.1">15</text><text x="77.6" y="111.8">16</text><text x="125.3" y="67.7">17</text><text x="118.8" y="92.4">18</text><text x="108.3" y="103.4">19</text><text x="101.0" y="115.8">20</text><text x="122.1" y="118.0">21</text><text x="119.9" y="133.1">22</text><text x="119.2" y="142.8">23</text><text x="101.0" y="133.1">24</text><text x="90.1" y="125.8">25</text><text x="109.4" y="140.6">36</text><text x="99.5" y="146.4">35</text><text x="72.5" y="132.2">27</text><text x="64.5" y="117.6">28</text><text x="87.3" y="139.4">26</text><text x="53.6" y="128.5">29</text><text x="44.8" y="124.4">30</text><text x="54.4" y="137.2">31</text><text x="61.6" y="135.1">32</text><text x="36.8" y="141.3">33</text><text x="52.1" y="150.5">34</text>
</g>
<text x="0.3" y="5.9" font-size="7.2" font-style="italic" fill="#111">(a)</text>
<text x="193.9" y="5.9" font-size="7.2" font-style="italic" fill="#111">(b)</text>
<text x="0.6" y="187.6" font-size="7.2" font-style="italic" fill="#111">(c)</text>
<text x="194.1" y="187.6" font-size="7.2" font-style="italic" fill="#111">(d)</text>
<rect x="177.1" y="86.90" width="4.6" height="3.4" fill="#0a326e" stroke="#8a8a8a" stroke-width="0.45"/><text transform="translate(184.3,91.05) scale(1,1.1)" font-size="6" fill="#000" style="text-rendering:geometricPrecision">under 50</text>
<rect x="177.1" y="91.86" width="4.6" height="3.4" fill="#1f6db6" stroke="#8a8a8a" stroke-width="0.45"/><text transform="translate(184.3,96.01) scale(1,1.1)" font-size="6" fill="#000" style="text-rendering:geometricPrecision">50 - 100</text>
<rect x="177.1" y="96.82" width="4.6" height="3.4" fill="#5ba1d2" stroke="#8a8a8a" stroke-width="0.45"/><text transform="translate(184.3,100.97) scale(1,1.1)" font-size="6" fill="#000" style="text-rendering:geometricPrecision">100 - 150</text>
<rect x="177.1" y="101.78" width="4.6" height="3.4" fill="#c6dbef" stroke="#8a8a8a" stroke-width="0.45"/><text transform="translate(184.3,105.93) scale(1,1.1)" font-size="6" fill="#000" style="text-rendering:geometricPrecision">150 - 200</text>
<rect x="177.1" y="106.74" width="4.6" height="3.4" fill="#fffcc9" stroke="#8a8a8a" stroke-width="0.45"/><text transform="translate(184.3,110.89) scale(1,1.1)" font-size="6" fill="#000" style="text-rendering:geometricPrecision">200 - 300</text>
<rect x="177.1" y="111.70" width="4.6" height="3.4" fill="#fde694" stroke="#8a8a8a" stroke-width="0.45"/><text transform="translate(184.3,115.85) scale(1,1.1)" font-size="6" fill="#000" style="text-rendering:geometricPrecision">300 - 400</text>
<rect x="177.1" y="116.66" width="4.6" height="3.4" fill="#fdd769" stroke="#8a8a8a" stroke-width="0.45"/><text transform="translate(184.3,120.81) scale(1,1.1)" font-size="6" fill="#000" style="text-rendering:geometricPrecision">400 - 500</text>
<rect x="177.1" y="121.62" width="4.6" height="3.4" fill="#fdab43" stroke="#8a8a8a" stroke-width="0.45"/><text transform="translate(184.3,125.77) scale(1,1.1)" font-size="6" fill="#000" style="text-rendering:geometricPrecision">500 - 750</text>
<rect x="177.1" y="126.58" width="4.6" height="3.4" fill="#fd8c32" stroke="#8a8a8a" stroke-width="0.45"/><text transform="translate(184.3,130.73) scale(1,1.1)" font-size="6" fill="#000" style="text-rendering:geometricPrecision">750 - 1000</text>
<rect x="177.1" y="131.54" width="4.6" height="3.4" fill="#fc4e2a" stroke="#8a8a8a" stroke-width="0.45"/><text transform="translate(184.3,135.69) scale(1,1.1)" font-size="6" fill="#000" style="text-rendering:geometricPrecision">1000 - 1250</text>
<rect x="177.1" y="136.50" width="4.6" height="3.4" fill="#e11e1e" stroke="#8a8a8a" stroke-width="0.45"/><text transform="translate(184.3,140.65) scale(1,1.1)" font-size="6" fill="#000" style="text-rendering:geometricPrecision">1250 - 1500</text>
<rect x="177.1" y="141.46" width="4.6" height="3.4" fill="#bd0026" stroke="#8a8a8a" stroke-width="0.45"/><text transform="translate(184.3,145.61) scale(1,1.1)" font-size="6" fill="#000" style="text-rendering:geometricPrecision">1500 - 2000</text>
<rect x="177.1" y="146.42" width="4.6" height="3.4" fill="#800026" stroke="#8a8a8a" stroke-width="0.45"/><text transform="translate(184.3,150.57) scale(1,1.1)" font-size="6" fill="#000" style="text-rendering:geometricPrecision">over 2000</text>
</svg>
</body></html>
